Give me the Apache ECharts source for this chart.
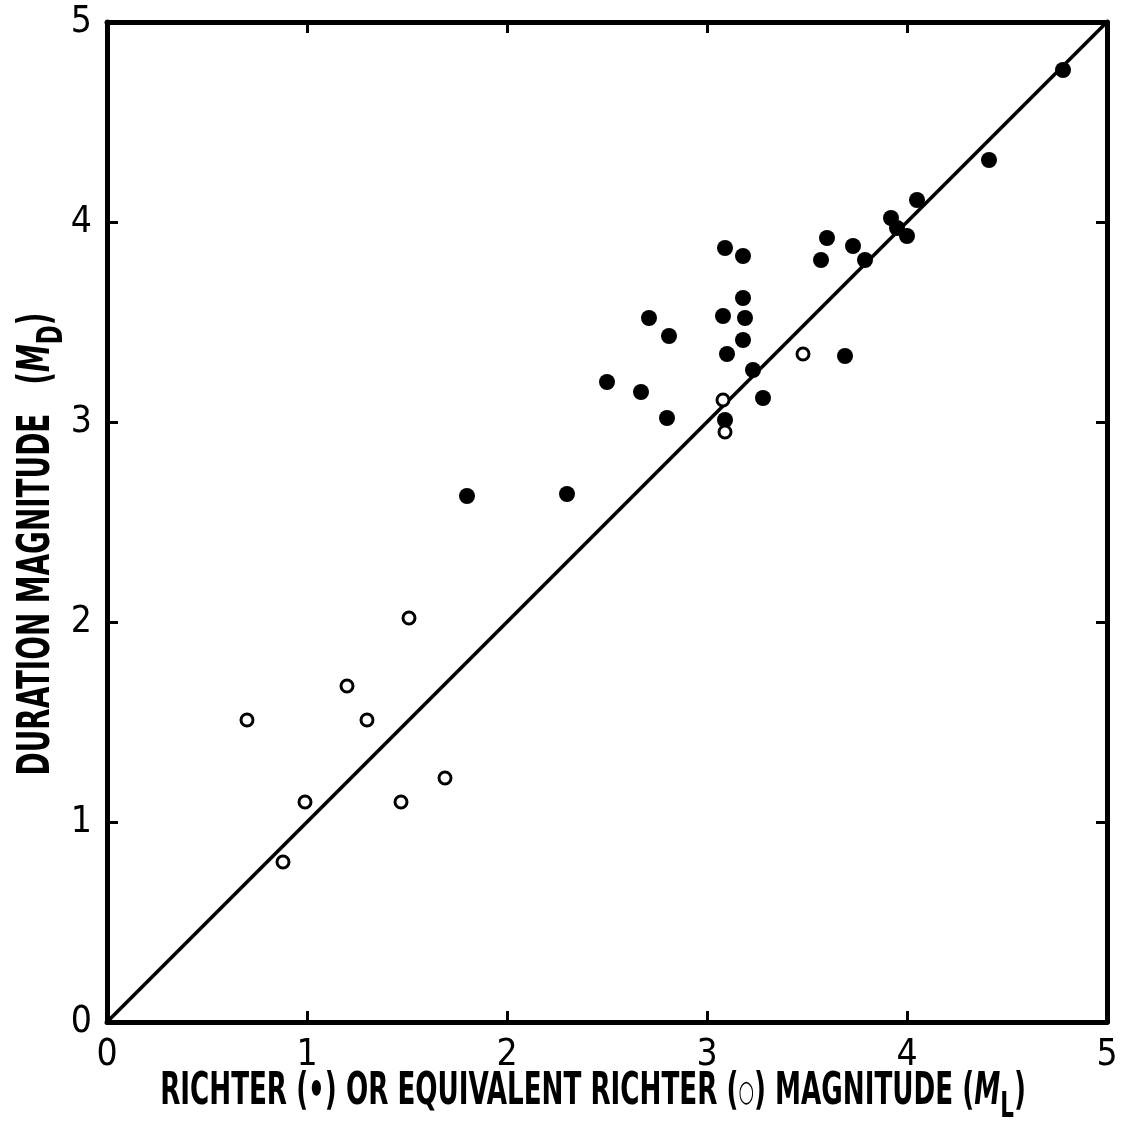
<!DOCTYPE html>
<html>
<head>
<meta charset="utf-8">
<script src="https://cdn.jsdelivr.net/npm/echarts@6/dist/echarts.min.js"></script>
<style>
  html, body { margin: 0; padding: 0; background: #fff; }
  #main { width: 1125px; height: 1131px; }
</style>
</head>
<body>
<div id="main"></div>
<script>
// Richter (filled) points: [ML, MD]
var richterPts = [
    [3.09, 3.87], [3.18, 3.83], [3.18, 3.62], [3.08, 3.53], [3.19, 3.52],
    [2.71, 3.52], [2.81, 3.43], [3.18, 3.41], [3.10, 3.34], [3.23, 3.26],
    [2.50, 3.20], [2.67, 3.15], [3.28, 3.12], [2.80, 3.02], [3.09, 3.01],
    [1.80, 2.63], [2.30, 2.64], [3.60, 3.92], [3.73, 3.88], [3.57, 3.81],
    [3.79, 3.81], [3.92, 4.02], [3.95, 3.97], [4.00, 3.93], [4.05, 4.11],
    [4.41, 4.31], [4.78, 4.76], [3.69, 3.33]
];
// equivalent Richter (open) points
var equivPts = [
    [0.70, 1.51], [0.88, 0.80], [0.99, 1.10], [1.20, 1.68], [1.30, 1.51],
    [1.51, 2.02], [1.47, 1.10], [1.69, 1.22], [3.08, 3.11], [3.09, 2.95],
    [3.48, 3.34]
];
var fitLine = [[0, 0], [5, 5]];
var axisMin = 0, axisMax = 5, axisStep = 1;

var FONT = "'Liberation Sans Narrow', 'DejaVu Sans Condensed', sans-serif";
var TITLE_FONT = "'DejaVu Sans Condensed', 'DejaVu Sans', sans-serif";

var xTitle = 'RICHTER (•) OR EQUIVALENT RICHTER (○) MAGNITUDE (ML)';
var yTitle = 'DURATION MAGNITUDE   (MD)';

function textScale(str, target) {
    var ctx = document.createElement('canvas').getContext('2d');
    ctx.font = 'bold 44px ' + TITLE_FONT;
    return target / ctx.measureText(str).width;
}

var titleRich = {
    a: { fontSize: 44, fontWeight: 'bold', fontFamily: TITLE_FONT, lineHeight: 50 },
    r: { fontSize: 30, fontWeight: 'bold', fontFamily: TITLE_FONT, lineHeight: 50 },
    m: { fontSize: 44, fontWeight: 'bold', fontStyle: 'italic', fontFamily: TITLE_FONT, lineHeight: 50 },
    s: { fontSize: 36, fontWeight: 'bold', fontFamily: TITLE_FONT, lineHeight: 50, padding: [30, 0, 0, 0] }
};

function axisCommon(show) {
    return {
        min: axisMin, max: axisMax, interval: axisStep,
        axisLine: { show: true, onZero: false, lineStyle: { color: '#000', width: 5 } },
        axisTick: { show: true, inside: true, length: 11, lineStyle: { color: '#000', width: 3 } },
        axisLabel: { show: show, color: '#000', fontSize: 37, fontFamily: FONT, margin: 15 },
        splitLine: { show: false }
    };
}

var myChart = echarts.init(document.getElementById('main'));
myChart.setOption({
    backgroundColor: '#fff',
    animation: false,
    grid: { left: 107, top: 22, width: 1000, height: 1000 },
    xAxis: [
        Object.assign({ type: 'value', position: 'bottom' }, axisCommon(true)),
        Object.assign({ type: 'value', position: 'top' }, axisCommon(false))
    ],
    yAxis: [
        Object.assign({ type: 'value', position: 'left' }, axisCommon(true)),
        Object.assign({ type: 'value', position: 'right' }, axisCommon(false))
    ],
    graphic: [
        {
            type: 'text', x: 593, y: 1093,
            scaleX: textScale(xTitle, 876), scaleY: 1,
            style: {
                text: '{a|RICHTER (•) OR EQUIVALENT RICHTER (}{r|○}{a|) MAGNITUDE (}{m|M}{s|L}{a|)}',
                rich: titleRich, fill: '#000', align: 'center', verticalAlign: 'middle'
            }
        },
        {
            type: 'text', x: 38, y: 544, rotation: Math.PI / 2,
            scaleX: textScale(yTitle, 467), scaleY: 1,
            style: {
                text: '{a|DURATION MAGNITUDE   (}{m|M}{s|D}{a|)}',
                rich: titleRich, fill: '#000', align: 'center', verticalAlign: 'middle'
            }
        }
    ],
    series: [
        {
            type: 'line', data: fitLine, symbol: 'none', z: 1,
            lineStyle: { color: '#000', width: 3.5 }
        },
        {
            type: 'scatter', name: 'Richter', data: richterPts, symbolSize: 16, z: 3,
            itemStyle: { color: '#000', opacity: 1 }
        },
        {
            type: 'scatter', name: 'Equivalent Richter', data: equivPts, symbolSize: 12, z: 3,
            itemStyle: { color: '#fff', borderColor: '#000', borderWidth: 3, opacity: 1 }
        }
    ]
});
</script>
</body>
</html>
